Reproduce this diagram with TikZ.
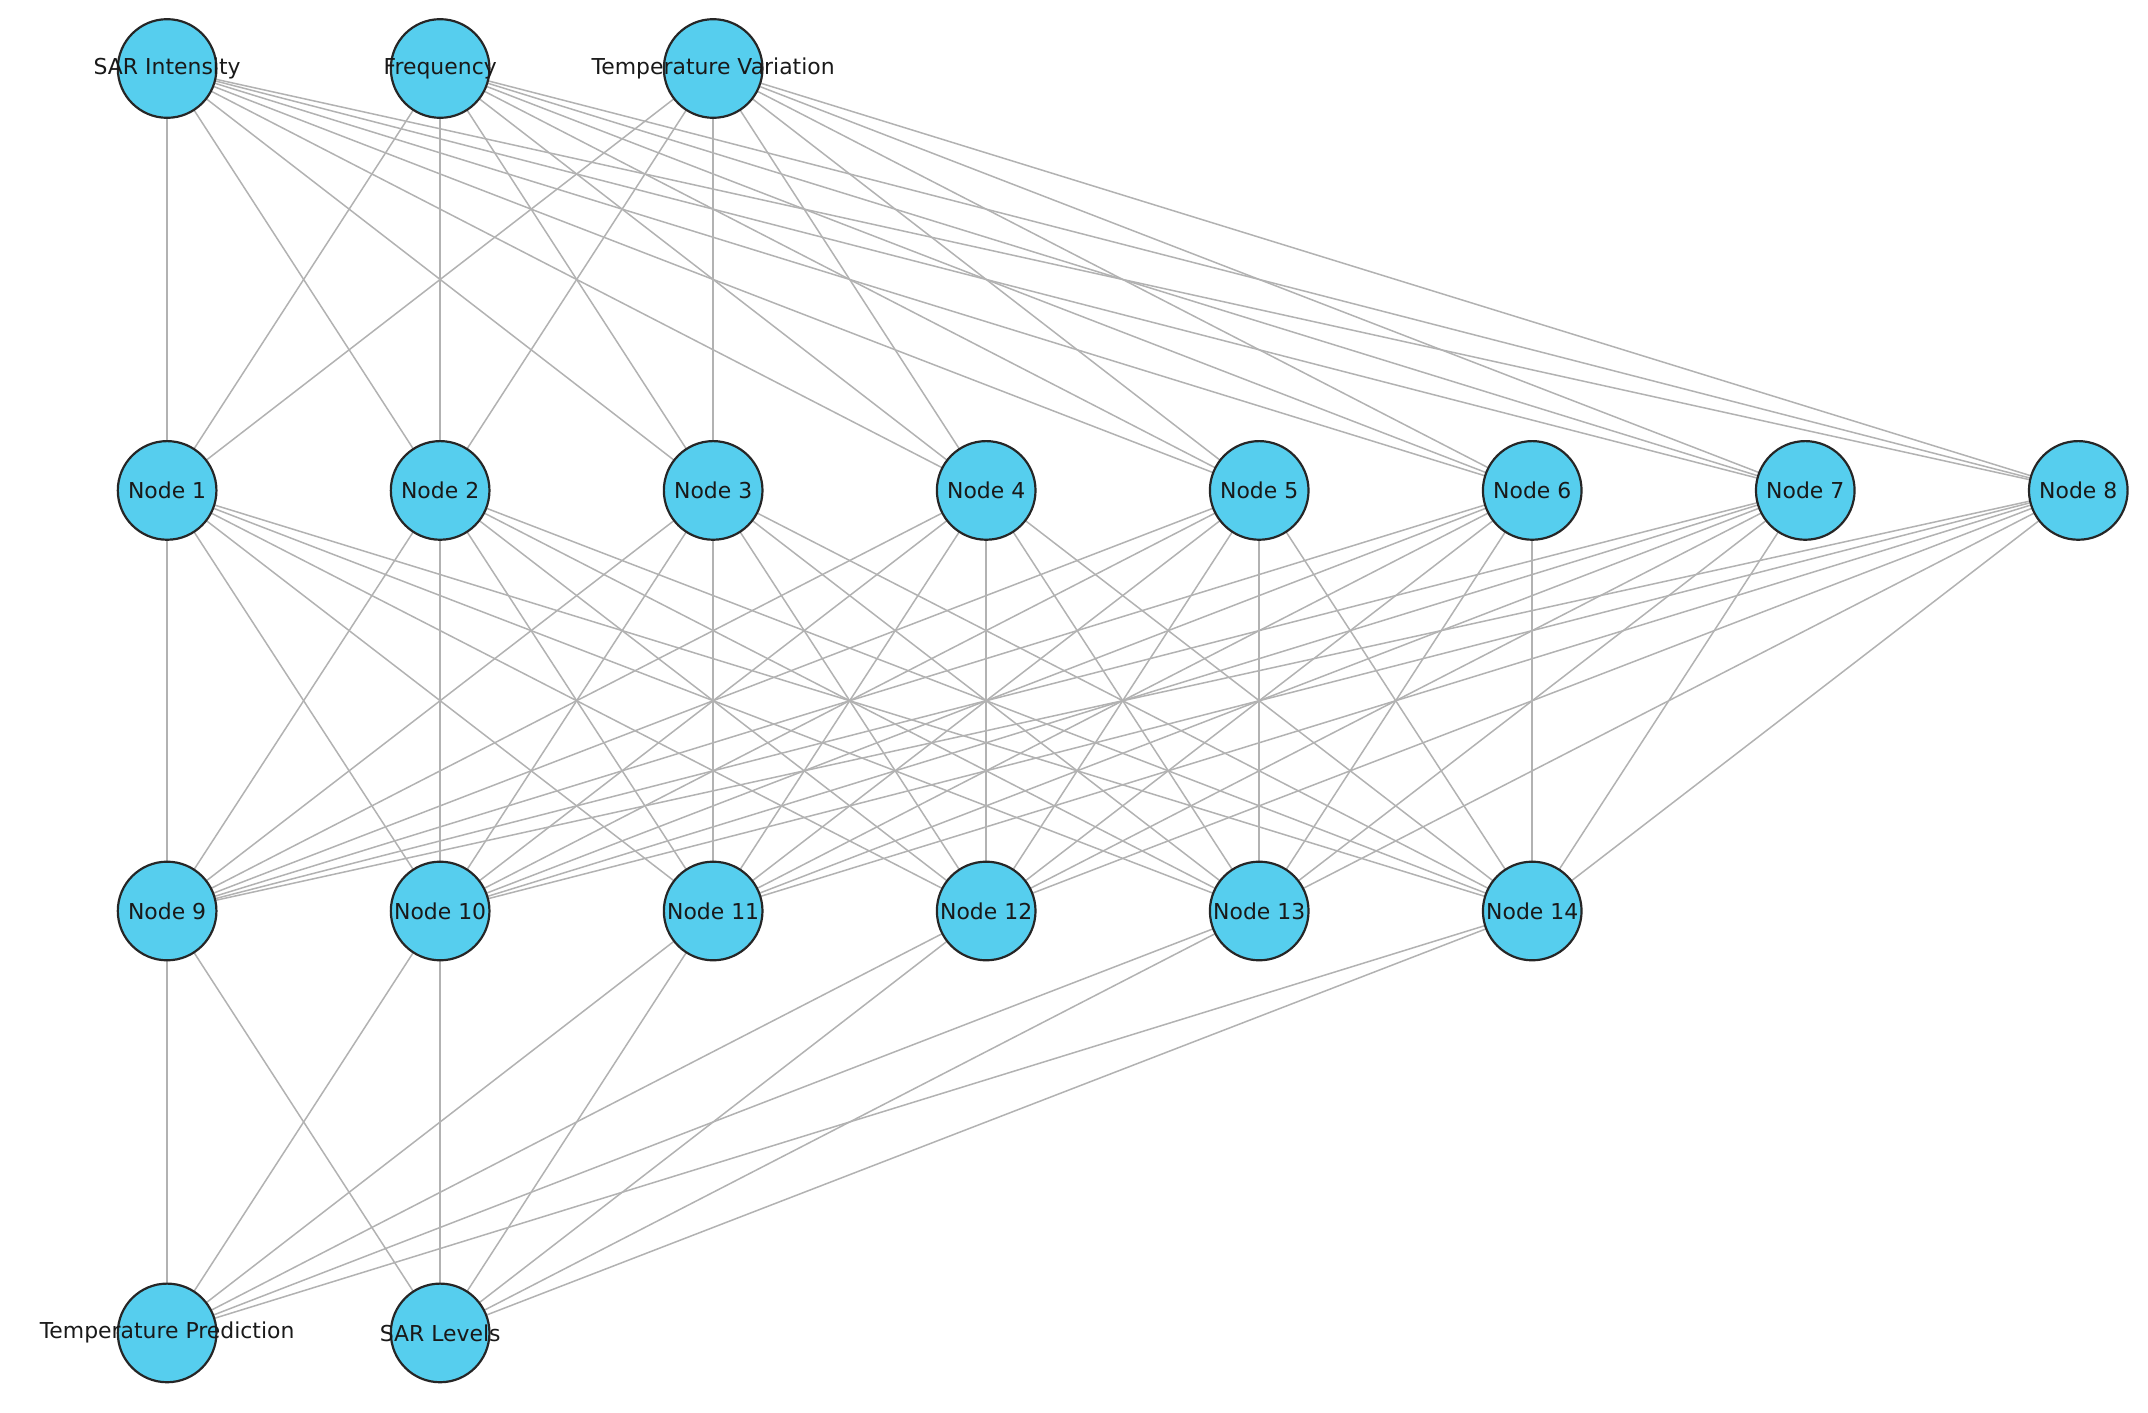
\documentclass[tikz,border=0pt]{standalone}
\usepackage{fontspec}
\setmainfont{DejaVu Sans}
\usetikzlibrary{backgrounds}
\definecolor{neuron}{HTML}{56CEEE}
\tikzset{
  neuron/.style={circle, draw=black!85, line width=1.6pt, fill=neuron,
    minimum size=72pt, inner sep=0pt},
  tag/.style={font=\fontsize{16}{18}\selectfont, text=black!90},
  link/.style={draw=black!30, line width=1.1pt}
}
\begin{document}
\begin{tikzpicture}[x=1pt, y=-1pt]
  \useasboundingbox (0, 0) rectangle (1568, 1031);
  % input layer
  \foreach \name [count=\i] in {SAR Intensity, Frequency, Temperature Variation}
    \node[neuron, label={[tag]center:\name}] (in\i) at ({122 + (\i-1)*199.3}, 50) {};
  % first hidden layer
  \foreach \i in {1,...,8}
    \node[neuron, label={[tag]center:Node \i}] (ha\i) at ({122 + (\i-1)*199.3}, 358) {};
  % second hidden layer
  \foreach \i in {1,...,6} {
    \pgfmathtruncatemacro{\k}{\i+8}
    \node[neuron, label={[tag]center:Node \k}] (hb\i) at ({122 + (\i-1)*199.3}, 665) {};
  }
  % output layer
  \foreach \name [count=\i] in {Temperature Prediction, SAR Levels}
    \node[neuron, label={[tag]center:\name}] (out\i) at ({122 + (\i-1)*199.3}, 973) {};
  \begin{scope}[on background layer]
    \foreach \i in {1,...,3}
      \foreach \j in {1,...,8}
        \draw[link] (in\i.center) -- (ha\j.center);
    \foreach \i in {1,...,8}
      \foreach \j in {1,...,6}
        \draw[link] (ha\i.center) -- (hb\j.center);
    \foreach \i in {1,...,6}
      \foreach \j in {1,2}
        \draw[link] (hb\i.center) -- (out\j.center);
  \end{scope}
\end{tikzpicture}
\end{document}
